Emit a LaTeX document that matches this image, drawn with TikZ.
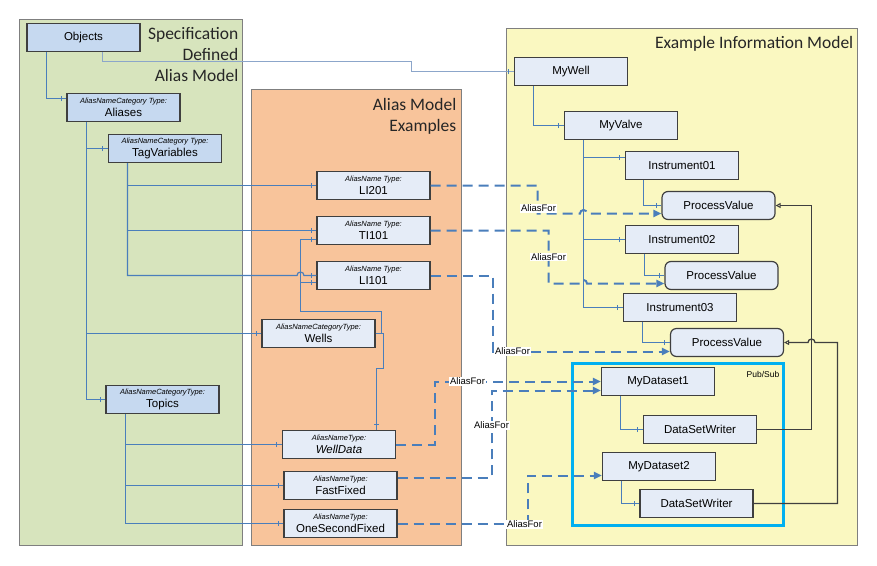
\documentclass[tikz,border=0pt]{standalone}
\usepackage{fontspec}
\setmainfont{Liberation Sans}
\newfontfamily\titlefont{Carlito}
\usetikzlibrary{arrows.meta,decorations.markings}
\definecolor{pgreen}{HTML}{D7E4BD}
\definecolor{porange}{HTML}{F8C49B}
\definecolor{pyellow}{HTML}{FAF8C1}
\definecolor{pborder}{HTML}{7F7F7F}
\definecolor{bdark}{HTML}{C6D9F0}
\definecolor{blight}{HTML}{E5ECF7}
\definecolor{edgec}{HTML}{3F3F3F}
\definecolor{lblue}{HTML}{4A7EBB}
\definecolor{pblue}{HTML}{8CA6CA}
\definecolor{cyanbox}{HTML}{00B0F0}
\newcommand{\twol}[2]{{\fontsize{7.5}{8}\selectfont\itshape #1}\\[-0.5pt]{\fontsize{11.5}{13}\selectfont #2}}
\begin{document}
\begin{tikzpicture}[x=1pt,y=-1pt,
  panel/.style={draw=pborder,line width=1.2pt},
  box/.style={draw=edgec,line width=1.2pt,minimum width=113pt,minimum height=28pt,inner sep=0pt,align=center,font=\fontsize{11.5}{13}\selectfont},
  dbox/.style={box,fill=bdark},
  lbox/.style={box,fill=blight},
  rbox/.style={box,fill=blight,rounded corners=6pt},
  tree/.style={draw=lblue,line width=1.2pt,postaction={decorate},decoration={markings,mark=at position -5pt with {\draw[lblue,line width=1pt] (0,-2.5pt)--(0,2.5pt);}}},
  alias/.style={draw=lblue,line width=2pt,dash pattern=on 10pt off 6pt,-{Triangle[length=8pt,width=7pt]}},
  refl/.style={draw=edgec,line width=1.3pt,-{Triangle[open,length=5pt,width=5pt,line width=1pt]}},
  lab/.style={fill=white,inner sep=1pt,font=\fontsize{9.5}{10}\selectfont},
  title/.style={align=right,inner sep=0pt,font=\titlefont\fontsize{17.5}{21}\selectfont,text=black!85}
]
\useasboundingbox (0,0) rectangle (877,565);
\begin{scope}[shift={(0.5,0.5)}]
% panels
\path[panel,fill=pgreen] (19,19) rectangle (242,545);
\path[panel,fill=porange] (251,89) rectangle (461,545);
\path[panel,fill=pyellow] (506,28) rectangle (857,545);
\draw[cyanbox,line width=3pt] (572,363) rectangle (783,525);
% titles
\node[title,anchor=north east] (t1) at (238,27) {Specification\\Defined\\Alias Model};
\node[title,anchor=north east] (t2) at (456,98) {Alias Model\\Examples};
\node[title,anchor=north east] (t3) at (853,36) {Example Information Model};
\node[font=\fontsize{8.5}{9}\selectfont,anchor=east,inner sep=0pt] (pubsub) at (779,373.5) {Pub/Sub};
% left nodes
\node[dbox] (objects) at (83,37) {Objects};
\node[dbox] (aliases) at (123,107) {\twol{AliasNameCategory Type:}{Aliases}};
\node[dbox] (tagvar) at (164.5,148) {\twol{AliasNameCategory Type:}{TagVariables}};
\node[dbox] (topics) at (162,399) {\twol{AliasNameCategoryType:}{Topics}};
% middle nodes
\node[lbox] (li201) at (373,185) {\twol{AliasName Type:}{LI201}};
\node[lbox] (ti101) at (373,230) {\twol{AliasName Type:}{TI101}};
\node[lbox] (li101) at (373,275) {\twol{AliasName Type:}{LI101}};
\node[lbox] (wells) at (318,333) {\twol{AliasNameCategoryType:}{Wells}};
\node[lbox] (welldata) at (338.5,444) {\twol{AliasNameType:}{\itshape WellData}};
\node[lbox] (fastfixed) at (340,485) {\twol{AliasNameType:}{FastFixed}};
\node[lbox] (onesec) at (340,523) {\twol{AliasNameType:}{OneSecondFixed}};
% right nodes
\node[lbox] (mywell) at (570.5,71) {MyWell};
\node[lbox] (myvalve) at (620.5,125) {MyValve};
\node[lbox] (inst1) at (681.5,165) {Instrument01};
\node[rbox] (pv1) at (718,205) {ProcessValue};
\node[lbox] (inst2) at (681.5,239) {Instrument02};
\node[rbox] (pv2) at (721,275) {ProcessValue};
\node[lbox] (inst3) at (679.5,307) {Instrument03};
\node[rbox] (pv3) at (726.5,342) {ProcessValue};
\node[lbox] (ds1) at (657.5,381) {MyDataset1};
\node[lbox] (dsw1) at (699.5,429) {DataSetWriter};
\node[lbox] (ds2) at (658.5,466) {MyDataset2};
\node[lbox] (dsw2) at (696,503) {DataSetWriter};
% left tree connectors
\draw[tree,draw=pblue] (objects.south -| 102,0) -- (102,61) -- (411,61) |- (mywell.west);
\draw[tree] (objects.south -| 46,0) |- (aliases.west |- 0,98);
\draw[tree] (aliases.south -| 86,0) |- (tagvar.west);
\draw[tree] (aliases.south -| 86,0) |- (wells.west);
\draw[tree] (aliases.south -| 86,0) |- (topics.west);
\draw[tree] (tagvar.south -| 127,0) |- (li201.west);
\draw[tree] (tagvar.south -| 127,0) |- (ti101.west);
\draw[tree] (tagvar.south -| 127,0) -- (127,275) -- (296.5,275) arc[start angle=180,end angle=0,radius=3.5pt] -- (li101.west);
\draw[tree] (topics.south -| 125,0) |- (welldata.west);
\draw[tree] (topics.south -| 125,0) |- (fastfixed.west);
\draw[tree] (topics.south -| 125,0) |- (onesec.west);
\draw[tree] (wells.east) -- (381,333) -- (381,311) -- (300,311) |- (ti101.west |- 0,239);
\draw[tree] (wells.east) -- (381,333) -- (381,311) -- (300,311) |- (li101.west |- 0,282);
\draw[tree] (wells.east) -| (383,368) -| (welldata.north -| 376,0);
% right tree connectors
\draw[tree] (mywell.south -| 533,0) |- (myvalve.west);
\draw[tree] (myvalve.south -| 583,0) |- (inst1.west |- 0,157);
\draw[tree] (myvalve.south -| 583,0) |- (inst2.west);
\draw[tree] (myvalve.south -| 583,0) |- (inst3.west);
\draw[tree] (inst1.south -| 643,0) |- (pv1.west);
\draw[tree] (inst2.south -| 644,0) |- (pv2.west);
\draw[tree] (inst3.south -| 642,0) |- (pv3.west);
\draw[tree] (ds1.south -| 620,0) |- (dsw1.west);
\draw[tree] (ds2.south -| 621,0) |- (dsw2.west);
% alias connectors
\draw[alias] (li201.east) -| (537,213) -- (579.5,213) arc[start angle=180,end angle=0,radius=3.5pt] -- (pv1.west |- 0,213);
\draw[alias] (ti101.east) -| (548,283) -- (579.5,283) arc[start angle=180,end angle=0,radius=3.5pt] -- (pv2.west |- 0,283);
\draw[alias] (li101.east) -| (492,351) -- (pv3.west |- 0,351);
\draw[alias] (welldata.east) -| (434,381) -- (ds1.west |- 0,381);
\draw[alias] (fastfixed.east |- 0,477) -| (491,390) -- (ds1.west |- 0,390);
\draw[alias] (onesec.east) -| (527,475) -- (ds2.west |- 0,475);
% reference connectors
\draw[refl] (dsw1.east) -| (811,205) -- (pv1.east);
\draw[refl] (dsw2.east) -| (837,342) -- (814.5,342) arc[start angle=0,end angle=180,radius=3.5pt] -- (pv3.east);
% labels
\node[lab] (a1) at (538,208) {AliasFor};
\node[lab] (a2) at (548,256.5) {AliasFor};
\node[lab] (a3) at (512,351) {AliasFor};
\node[lab] (a4) at (467,381) {AliasFor};
\node[lab] (a5) at (491,425) {AliasFor};
\node[lab] (a6) at (524,524) {AliasFor};
\end{scope}
\end{tikzpicture}
\end{document}
